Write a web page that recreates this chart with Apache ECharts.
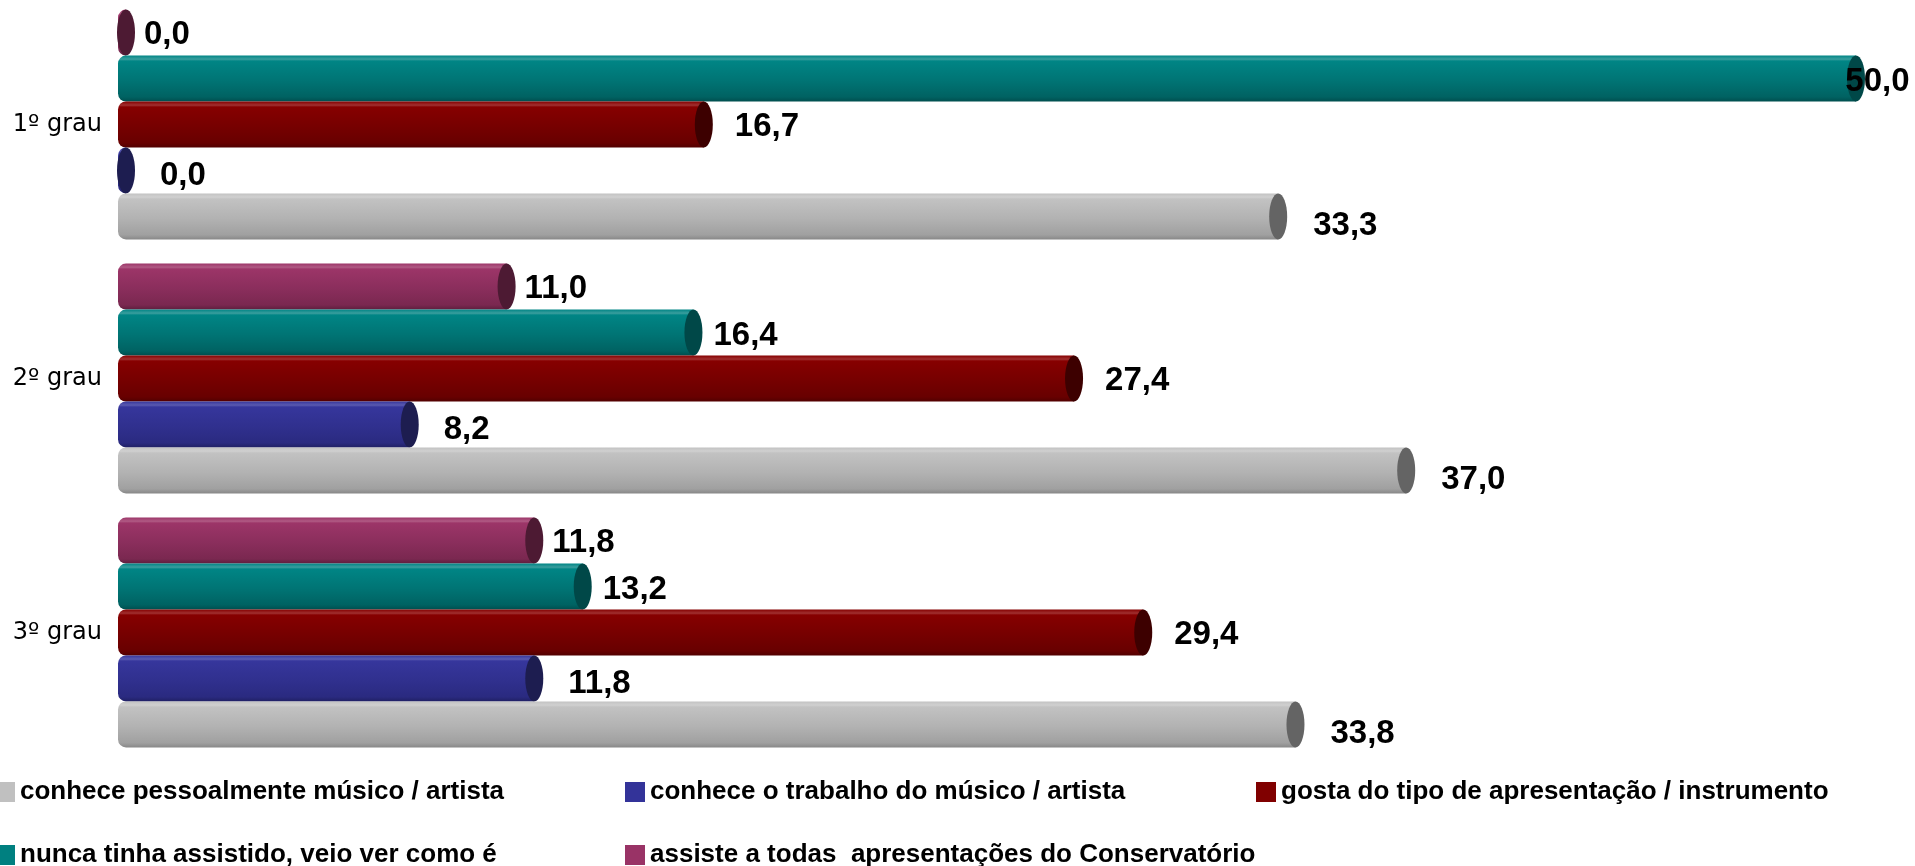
<!DOCTYPE html>
<html><head><meta charset="utf-8">
<script src="https://cdn.jsdelivr.net/npm/echarts@6/dist/echarts.min.js"></script>
<style>html,body{margin:0;padding:0;background:#fff}#c{width:1915px;height:866px}</style>
</head><body><div id="c"></div>
<script>
// ---- data ----
const categories = ['1º grau', '2º grau', '3º grau'];
const nameConhecePessoal = 'conhece pessoalmente músico / artista';
const nameConheceTrabalho = 'conhece o trabalho do músico / artista';
const nameGosta = 'gosta do tipo de apresentação / instrumento';
const nameNunca = 'nunca tinha assistido, veio ver como é';
const nameAssiste = 'assiste a todas  apresentações do Conservatório';
const conhecePessoal = [33.3, 37.0, 33.8];
const conheceTrabalho = [0.0, 8.2, 11.8];
const gosta = [16.7, 27.4, 29.4];
const nunca = [50.0, 16.4, 13.2];
const assiste = [0.0, 11.0, 11.8];

// ---- styling ----
const N_SLOTS = 5;
const CAT_GAP = 0.095;
const LABEL_FONT_SIZE = 33;
const LABEL_FONT_FAMILY = "Liberation Sans, Arial, sans-serif";

function fmt(v) { return v.toFixed(1).replace('.', ','); }
function textWidth(s) {
  let w = 0;
  try {
    const t = new echarts.graphic.Text({ style: { text: s, fontSize: LABEL_FONT_SIZE, fontWeight: 'bold', fontFamily: LABEL_FONT_FAMILY } });
    w = t.getBoundingRect().width;
  } catch (e) { w = 0; }
  const est = s.length * 0.49 * LABEL_FONT_SIZE;
  return Math.max(w, est);
}

function makeRender(slot, st) {
  return function (params, api) {
    const v = api.value(0), c = api.value(1);
    const p0 = api.coord([0, c]);
    const p1 = api.coord([v, c]);
    const band = api.size([0, 1])[1];
    const groupH = band * (1 - CAT_GAP);
    const h = groupH / N_SLOTS;
    const top = p0[1] - groupH / 2 + slot * h;
    const cy = top + h / 2;
    const rx = 9;
    const x0 = p0[0] - 8;
    const bodyW = Math.max(p1[0] - x0, 0);
    const label = fmt(v);
    const tw = textWidth(label);
    let lx = p1[0] + rx + st.gap;
    const maxX = api.getWidth() - tw - 5;
    if (lx > maxX) lx = maxX;
    const grad = new echarts.graphic.LinearGradient(0, 0, 0, 1, [
      { offset: 0, color: st.top },
      { offset: 0.08, color: st.light },
      { offset: 0.12, color: st.top },
      { offset: 0.55, color: st.mid },
      { offset: 0.9, color: st.bottom },
      { offset: 1, color: st.edge }
    ]);
    return {
      type: 'group',
      children: [
        { type: 'rect', shape: { x: x0, y: top, width: bodyW, height: h, r: [8, 0, 0, 8] }, style: { fill: grad } },
        { type: 'ellipse', shape: { cx: p1[0], cy: cy, rx: rx, ry: h / 2 }, style: { fill: st.cap } },
        { type: 'text', z2: 10, x: lx, y: cy + st.dy,
          style: { text: label, align: 'left', verticalAlign: 'middle',
            fontSize: LABEL_FONT_SIZE, fontWeight: 'bold', fontFamily: LABEL_FONT_FAMILY, fill: '#000' } }
      ]
    };
  };
}

const defs = [
  { name: nameAssiste, values: assiste, slot: 0,
    st: { base: '#993366', top: '#9c3568', light: '#b05a84', mid: '#8a2e5c', bottom: '#7a2850', edge: '#5e1f3e', cap: '#4d1a33', gap: 9, dy: 2 } },
  { name: nameNunca, values: nunca, slot: 1,
    st: { base: '#008080', top: '#008585', light: '#3a9e9e', mid: '#007474', bottom: '#006262', edge: '#004e4e', cap: '#004848', gap: 11, dy: 3 } },
  { name: nameGosta, values: gosta, slot: 2,
    st: { base: '#800000', top: '#860000', light: '#a03030', mid: '#760000', bottom: '#680000', edge: '#520000', cap: '#3d0000', gap: 22, dy: 2 } },
  { name: nameConheceTrabalho, values: conheceTrabalho, slot: 3,
    st: { base: '#333399', top: '#36369c', light: '#5a5ab0', mid: '#30308e', bottom: '#2a2a80', edge: '#202064', cap: '#1d1d50', gap: 25, dy: 5 } },
  { name: nameConhecePessoal, values: conhecePessoal, slot: 4,
    st: { base: '#c0c0c0', top: '#c2c2c2', light: '#d0d0d0', mid: '#b2b2b2', bottom: '#a0a0a0', edge: '#888888', cap: '#646464', gap: 26, dy: 9 } }
];

const series = defs.map(d => ({
  type: 'custom',
  name: d.name,
  itemStyle: { color: d.st.base },
  encode: { x: 0, y: 1 },
  data: d.values.map((v, i) => [v, i]),
  renderItem: makeRender(d.slot, d.st),
  clip: false
}));

const legendBase = {
  orient: 'horizontal', itemWidth: 20, itemHeight: 20, icon: 'rect',
  selectedMode: false, padding: 0,
  textStyle: { fontFamily: "Liberation Sans, Arial, sans-serif", fontWeight: 'bold', fontSize: 26, lineHeight: 20, color: '#000' }
};
function legendAt(name, left, top) {
  return Object.assign({}, legendBase, { left: left, top: top, data: [name] });
}

const chart = echarts.init(document.getElementById('c'), null, { renderer: 'canvas' });
chart.setOption({
  animation: false,
  backgroundColor: '#ffffff',
  grid: { left: 126, right: 59, top: -2.5, height: 762, outerBoundsMode: 'none', containLabel: false },
  xAxis: { type: 'value', min: 0, max: 50, show: false },
  yAxis: {
    type: 'category', data: categories, inverse: true,
    axisLine: { show: false }, axisTick: { show: false }, splitLine: { show: false },
    axisLabel: { margin: 24, fontSize: 24, fontFamily: "DejaVu Sans, Verdana, sans-serif", color: '#000' }
  },
  legend: [
    legendAt(nameConhecePessoal, -5, 779),
    legendAt(nameConheceTrabalho, 625, 779),
    legendAt(nameGosta, 1256, 779),
    legendAt(nameNunca, -5, 842),
    legendAt(nameAssiste, 625, 842)
  ],
  series: series
});
</script>
</body></html>
